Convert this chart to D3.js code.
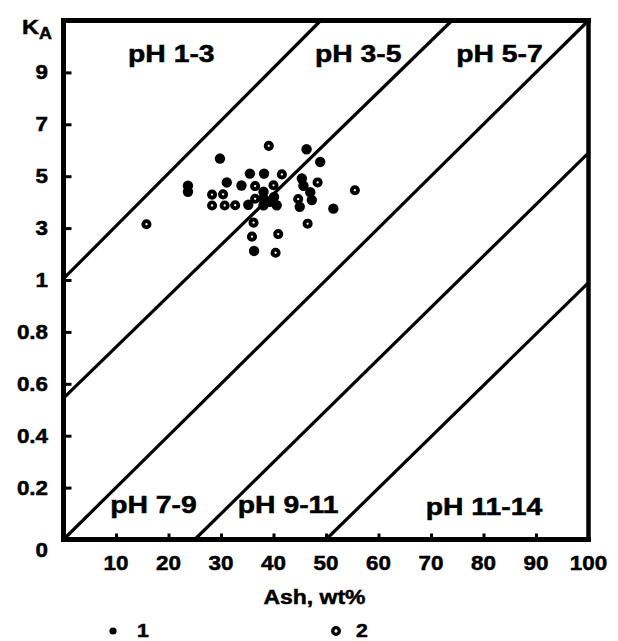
<!DOCTYPE html>
<html>
<head>
<meta charset="utf-8">
<script src="https://cdn.jsdelivr.net/npm/d3@7"></script>
<style>
  body { margin: 0; background: #fff; }
  text { font-family: "Liberation Sans", Arial, sans-serif; font-weight: bold; fill: #000;
         stroke: #000; stroke-width: 0.5px; }
</style>
</head>
<body>
<script>
// tick values
var ashTicks = [10, 20, 30, 40, 50, 60, 70, 80, 90, 100];
var kaTicks = [0, 0.2, 0.4, 0.6, 0.8, 1, 3, 5, 7, 9];
var kaTickLabels = ["0", "0.2", "0.4", "0.6", "0.8", "1", "3", "5", "7", "9"];

// pH zone boundaries, [ash, KA] end points
var boundaries = [
    [[0, 1.05], [49, 11]],
    [[0, 0.545], [74, 11]],
    [[0, 0], [100, 11]],
    [[25, 0], [100, 5.9]],
    [[50, 0], [100, 0.99]]
];

// zone names, anchored in data units
var zoneNames = ["pH 1-3", "pH 3-5", "pH 5-7", "pH 7-9", "pH 9-11", "pH 11-14"];
var zoneAsh = [12.3, 47.9, 74.8, 8.9, 33.2, 69.0];
var zoneKA = [9.42, 9.4, 9.4, 0.102, 0.102, 0.094];

// series 1 (filled dots)
var ash1 = [29.8, 46.3, 48.9, 35.5, 38.2, 31.1, 23.7, 23.7, 33.9, 35.2, 38.1, 40.6,
            38.1, 40.1, 38.1, 45.4, 45.7, 47.0, 45.0, 47.3, 51.4, 36.3, 39.3];
var ka1  = [5.68, 6.04, 5.55, 5.10, 5.10, 4.76, 4.63, 4.40, 4.64, 3.90, 4.14, 3.88,
            3.88, 4.20, 4.40, 4.91, 4.63, 4.38, 3.82, 4.08, 3.75, 2.12, 4.01];

// series 2 (open dots)
var ash2 = [39.1, 41.6, 36.5, 40.0, 28.3, 30.4, 28.3, 30.7, 32.7, 36.5, 44.7, 48.4,
            55.5, 46.5, 36.2, 35.9, 40.9, 40.4, 15.8];
var ka2  = [6.17, 5.07, 4.62, 4.65, 4.29, 4.30, 3.87, 3.87, 3.88, 4.13, 4.12, 4.76,
            4.46, 3.17, 3.21, 2.67, 2.77, 2.05, 3.15];

var width = 618, height = 641;

var svg = d3.select("body").append("svg")
    .attr("width", width)
    .attr("height", height);

var x = d3.scaleLinear().domain([0, 100]).range([63.5, 588.5]);
// lower part 0..1 and upper part 1..11 share the same pixel length per tick
var y = d3.scaleLinear().domain([0, 1, 11]).range([539.5, 280, 20.5]);

function label(text, px, py, size, anchor, sx) {
    return svg.append("text")
        .attr("transform", "translate(" + px + "," + py + ") scale(" + sx + ",1)")
        .attr("text-anchor", anchor || "start")
        .style("font-size", size + "px")
        .text(text);
}

// zone boundaries
boundaries.forEach(function (b) {
    svg.append("line")
        .attr("x1", x(b[0][0])).attr("y1", y(b[0][1]))
        .attr("x2", x(b[1][0])).attr("y2", y(b[1][1]))
        .attr("stroke", "#000")
        .attr("stroke-width", 3.2);
});

// ticks (inward)
var xAxis = d3.axisBottom(x).tickValues(ashTicks.slice(0, -1)).tickSizeInner(-6).tickSizeOuter(0).tickFormat("");
var gx = svg.append("g").attr("transform", "translate(0," + y(0) + ")").call(xAxis);
gx.select(".domain").remove();
gx.selectAll(".tick line").attr("stroke", "#000").attr("stroke-width", 3);

var yAxis = d3.axisLeft(y).tickValues(kaTicks.slice(1)).tickSizeInner(-8).tickSizeOuter(0).tickFormat("");
var gy = svg.append("g").attr("transform", "translate(" + x(0) + ",0)").call(yAxis);
gy.select(".domain").remove();
gy.selectAll(".tick line").attr("stroke", "#000").attr("stroke-width", 3);

// frame
var x0 = x(0), x1 = x(100), y0 = y(0), y1 = y(11);
[[x0, y1, x0, y0, 5], [x0, y0, x1, y0, 5], [x0, y1, x1, y1, 5], [x1, y1, x1, y0, 4.5]].forEach(function (s) {
    svg.append("line")
        .attr("x1", s[0]).attr("y1", s[1]).attr("x2", s[2]).attr("y2", s[3])
        .attr("stroke", "#000").attr("stroke-width", s[4])
        .attr("stroke-linecap", "square");
});

// tick labels
ashTicks.forEach(function (t) {
    label(String(t), x(t), 570, 20, "middle", 1.12);
});
kaTicks.forEach(function (t, i) {
    var py = y(t) + 7;
    if (t === 0) py = 557;
    label(kaTickLabels[i], 48, py, 20, "end", 1.12);
});

// axis titles
label("Ash, wt%", 314.5, 604, 20.5, "middle", 1.12);
var ka = svg.append("text")
    .attr("transform", "translate(22,34) scale(1.12,1)")
    .style("font-size", "21px");
ka.append("tspan").text("K");
ka.append("tspan").attr("dy", 5).style("font-size", "16px").text("A");

// zone names
zoneNames.forEach(function (n, i) {
    label(n, x(zoneAsh[i]), y(zoneKA[i]), 24, "start", 1.18);
});

// data points
svg.append("g").selectAll("circle")
    .data(d3.zip(ash1, ka1))
    .join("circle")
    .attr("cx", function (d) { return x(d[0]); })
    .attr("cy", function (d) { return y(d[1]); })
    .attr("r", 5.2)
    .attr("fill", "#000");

svg.append("g").selectAll("circle")
    .data(d3.zip(ash2, ka2))
    .join("circle")
    .attr("cx", function (d) { return x(d[0]); })
    .attr("cy", function (d) { return y(d[1]); })
    .attr("r", 3.1)
    .attr("fill", "#fff")
    .attr("stroke", "#000")
    .attr("stroke-width", 3.9);

// legend
svg.append("circle").attr("cx", 113).attr("cy", 631).attr("r", 3.6).attr("fill", "#000");
label("1", 137, 637, 19, "start", 1.12);
svg.append("circle").attr("cx", 336).attr("cy", 631).attr("r", 3.3)
    .attr("fill", "#fff").attr("stroke", "#000").attr("stroke-width", 3.3);
label("2", 356, 637, 19, "start", 1.12);
</script>
</body>
</html>
